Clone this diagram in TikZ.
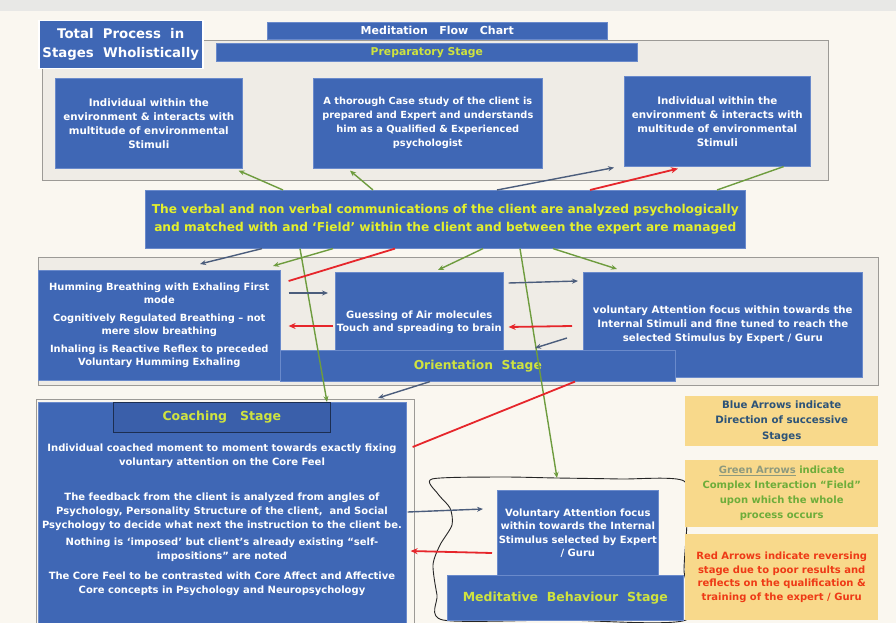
\documentclass[tikz,border=0pt]{standalone}
\usepackage{fontspec}
\setmainfont{DejaVu Sans}
\usetikzlibrary{arrows.meta,calc}
\definecolor{bgc}{HTML}{FAF7F0}
\definecolor{topgray}{HTML}{E8E8E6}
\definecolor{boxblue}{HTML}{3F67B5}
\definecolor{boxedge}{HTML}{6A8ACB}
\definecolor{framefill}{HTML}{EFECE6}
\definecolor{framedraw}{HTML}{9C9A96}
\definecolor{titlegreen}{HTML}{CFE33F}
\definecolor{commyellow}{HTML}{E4F02C}
\definecolor{arrgreen}{HTML}{6E9C3E}
\definecolor{arrblue}{HTML}{4B5D7C}
\definecolor{arrred}{HTML}{E6262B}
\definecolor{legfill}{HTML}{F8D98B}
\definecolor{legblue}{HTML}{2C5378}
\definecolor{leggreen}{HTML}{6EAD3A}
\definecolor{leggray}{HTML}{8E9A7E}
\definecolor{legred}{HTML}{EE3A16}
\definecolor{coachbar}{HTML}{3A5FAA}
\tikzset{
 bluebox/.style={draw=boxedge, line width=0.6pt, fill=boxblue, text=white, font=\bfseries\fontsize{10}{13.5}\selectfont, align=center, inner sep=0pt, anchor=north west},
 stageframe/.style={draw=framedraw, line width=0.8pt, fill=framefill},
 legbox/.style={fill=legfill, draw=none, align=center, inner sep=0pt, anchor=north west},
 ctext/.style={text=white, align=center, inner sep=0pt, font=\bfseries\fontsize{10}{13.8}\selectfont},
 garr/.style={draw=arrgreen, line width=1.4pt, -{Stealth[length=6pt,width=5pt]}},
 gline/.style={draw=arrgreen, line width=1.4pt},
 barr/.style={draw=arrblue, line width=1.4pt, -{Stealth[length=6pt,width=5pt]}},
 rarr/.style={draw=arrred, line width=1.8pt, -{Stealth[length=7pt,width=6pt]}},
 rline/.style={draw=arrred, line width=1.8pt},
}
\begin{document}
\begin{tikzpicture}[x=1pt,y=-1pt]
\useasboundingbox (0,0) rectangle (896,623);
\fill[bgc] (0,0) rectangle (896,623);
\fill[topgray] (0,0) rectangle (896,11);

% ---------- Preparatory stage ----------
\draw[stageframe] (42,40) rectangle (828,180);
\node[bluebox, minimum width=164pt, minimum height=48pt, draw=white, line width=1.5pt,
      font=\bfseries\fontsize{13.3}{19}\selectfont] (total) at (38,20) {Total\ \ Process\ \ in\\Stages\ \ Wholistically};
\node[bluebox, minimum width=340pt, minimum height=17pt, font=\bfseries\fontsize{11}{11}\selectfont] (mfc) at (267,22) {Meditation\ \ \ Flow\ \ \ Chart};
\node[bluebox, minimum width=421pt, minimum height=18pt, text=titlegreen, font=\bfseries\fontsize{10.8}{12}\selectfont] (prep) at (216,43) {Preparatory Stage};

\node[bluebox, minimum width=187pt, minimum height=90pt, font=\bfseries\fontsize{10.3}{14}\selectfont] (A) at (55,78) {Individual within the\\environment \& interacts with\\multitude of environmental\\Stimuli};
\node[bluebox, minimum width=229pt, minimum height=90pt, font=\bfseries\fontsize{9.8}{14}\selectfont] (B) at (313,78) {A thorough Case study of the client is\\prepared and Expert and understands\\him as a Qualified \& Experienced\\psychologist};
\node[bluebox, minimum width=186pt, minimum height=90pt, font=\bfseries\fontsize{10.3}{14}\selectfont] (C) at (624,76) {Individual within the\\environment \& interacts with\\multitude of environmental\\Stimuli};

% ---------- Communication box ----------
\node[bluebox, minimum width=600pt, minimum height=58pt, text=commyellow, font=\bfseries\fontsize{12.2}{18}\selectfont] (comm) at (145,190) {The verbal and non verbal communications of the client are analyzed psychologically\\and matched with and ‘Field’ within the client and between the expert are managed};

% ---------- Orientation stage ----------
\draw[stageframe] (38,257) rectangle (878,385);
\node[bluebox, minimum width=242pt, minimum height=110pt, font=\bfseries\fontsize{9.9}{13.5}\selectfont] (hum) at (38,270) {Humming Breathing with Exhaling First\\mode\\[4pt]Cognitively Regulated Breathing -- not\\mere slow breathing\\[4pt]Inhaling is Reactive Reflex to preceded\\Voluntary Humming Exhaling};
\node[bluebox, minimum width=168pt, minimum height=100pt] (gas) at (335,272) {Guessing of Air molecules\\Touch and spreading to brain};
\node[bluebox, minimum width=279pt, minimum height=105pt, font=\bfseries\fontsize{10.2}{13.8}\selectfont] (vol) at (583,272) {voluntary Attention focus within towards the\\Internal Stimuli and fine tuned to reach the\\selected Stimulus by Expert / Guru};
\node[bluebox, minimum width=395pt, minimum height=31pt, text=titlegreen, font=\bfseries\fontsize{12.3}{13}\selectfont] (obar) at (280,350) {Orientation\ \ Stage};

% ---------- Coaching stage ----------
\draw[draw=framedraw, line width=0.8pt] (36,399) rectangle (414,623);
\node[bluebox, minimum width=368pt, minimum height=221pt] (coach) at (38,402) {};
\node[bluebox, fill=coachbar, draw=black!55!boxblue, minimum width=217pt, minimum height=30pt, text=titlegreen, font=\bfseries\fontsize{12.5}{13}\selectfont] (cbar) at (113,402) {Coaching\ \ \ Stage};
\node[ctext] (c1) at (222,456) {Individual coached moment to moment towards exactly fixing\\voluntary attention on the Core Feel};
\node[ctext] (c2) at (222,512) {The feedback from the client is analyzed from angles of\\Psychology, Personality Structure of the client,\ \ and Social\\Psychology to decide what next the instruction to the client be.};
\node[ctext] (c3) at (222,550) {Nothing is ‘imposed’ but client’s already existing “self-\\impositions” are noted};
\node[ctext] (c4) at (222,584) {The Core Feel to be contrasted with Core Affect and Affective\\Core concepts in Psychology and Neuropsychology};

% ---------- Meditative behaviour stage ----------
\draw[black!85, line width=0.9pt] plot[smooth cycle, tension=0.45] coordinates {(432,479) (500,477) (557,478) (620,479) (684,481) (687,520) (684,570) (686,620) (560,620) (443,620) (437,595) (433,565) (440,545) (452,525) (450,508) (438,494)};
\node[bluebox, minimum width=161pt, minimum height=86pt] (medvol) at (497,490) {Voluntary Attention focus\\within towards the Internal\\Stimulus selected by Expert\\/ Guru};
\node[bluebox, minimum width=236pt, minimum height=45pt, text=titlegreen, font=\bfseries\fontsize{12.5}{13}\selectfont] (mbar) at (447,575) {Meditative\ \ Behaviour\ \ Stage};

% ---------- Legends ----------
\node[legbox, minimum width=193pt, minimum height=50pt, text=legblue, font=\bfseries\fontsize{10.2}{15.5}\selectfont] (leg1) at (685,396) {Blue Arrows indicate\\Direction of successive\\Stages};
\node[legbox, minimum width=193pt, minimum height=67pt, text=leggreen, font=\bfseries\fontsize{10}{15}\selectfont] (leg2) at (685,460) {{\color{leggray}\underline{Green Arrows}} indicate\\Complex Interaction “Field”\\upon which the whole\\process occurs};
\node[legbox, minimum width=193pt, minimum height=86pt, text=legred, font=\bfseries\fontsize{10}{13.5}\selectfont] (leg3) at (685,534) {Red Arrows indicate reversing\\stage due to poor results and\\reflects on the qualification \&\\training of the expert / Guru};

% ---------- free ends ----------
\coordinate (o1) at (200,264);
\coordinate (o2) at (273,266);
\coordinate (medtop) at (557,478);

% ---------- connectors: preparatory <-> communication ----------
\draw[garr] ($(comm.north west)+(138,0)$) -- ($(A.south east)+(-4,2)$);
\draw[garr] ($(comm.north west)+(228,0)$) -- ($(B.south west)+(37,2)$);
\draw[barr] ($(comm.north west)+(352,0)$) -- ($(C.south west)+(-10,1)$);
\draw[rarr] ($(comm.north west)+(445,0)$) -- ($(C.south west)+(54,2)$);
\draw[gline] ($(comm.north west)+(572,0)$) -- ($(C.south east)+(-27,0)$);

% ---------- communication -> below ----------
\draw[barr] ($(comm.south west)+(117,0)$) -- (o1);
\draw[garr] ($(comm.south west)+(188,0)$) -- (o2);
\draw[garr] ($(comm.south west)+(155,0)$) -- ($(coach.north west)+(289,0)$);
\draw[rline] ($(comm.south west)+(250,0)$) -- ($(hum.north east)+(8,11)$);
\draw[garr] ($(comm.south west)+(338,0)$) -- ($(gas.north west)+(103,-2)$);
\draw[garr] ($(comm.south west)+(375,0)$) -- (medtop);
\draw[garr] ($(comm.south west)+(408,0)$) -- ($(vol.north west)+(34,-3)$);

% ---------- orientation arrows ----------
\draw[barr] ($(hum.north east)+(8,23)$) -- ($(gas.north west)+(-7,21)$);
\draw[rarr] ($(gas.north west)+(-2,54)$) -- ($(hum.north east)+(8,56)$);
\draw[barr] ($(gas.north east)+(5,11)$) -- ($(vol.north west)+(-5,9)$);
\draw[rarr] ($(vol.north west)+(-11,54)$) -- ($(gas.north east)+(5,55)$);
\draw[barr] ($(vol.north west)+(-16,66)$) -- ($(obar.north west)+(255,-2)$);
\draw[barr] ($(obar.south west)+(150,0)$) -- ($(coach.north west)+(340,-4)$);
\draw[rline] ($(obar.south west)+(295,0)$) -- ($(coach.north east)+(6,45)$);

% ---------- coaching <-> meditative ----------
\draw[barr] ($(coach.north east)+(1,110)$) -- ($(medvol.north west)+(-14,19)$);
\draw[rarr] ($(medvol.north west)+(-5,63)$) -- ($(coach.north east)+(4,149)$);
\end{tikzpicture}
\end{document}
